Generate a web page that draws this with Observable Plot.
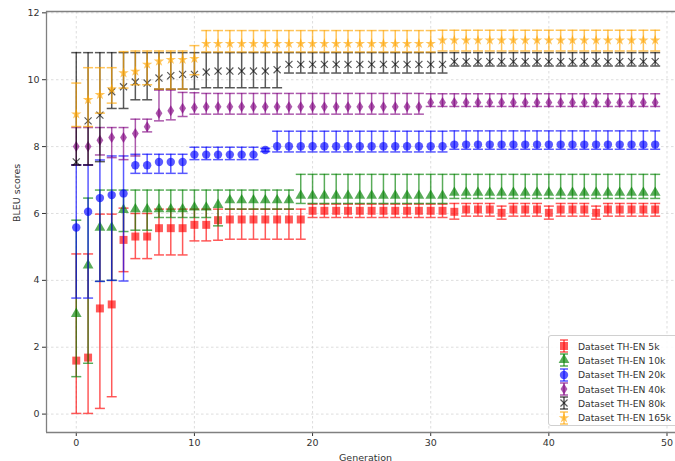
<!DOCTYPE html>
<html>
<head>
<meta charset="utf-8">
<script src="https://cdn.jsdelivr.net/npm/d3@7"></script>
<script src="https://cdn.jsdelivr.net/npm/@observablehq/plot@0.6"></script>
<style>
  html, body { margin: 0; padding: 0; background: #fff; }
  #wrap { position: relative; width: 675px; height: 461px; overflow: hidden; font-family: "DejaVu Sans", sans-serif; }
  #legend { position: absolute; left: 548px; top: 335px; width: 140px; height: 91px; box-sizing: border-box;
            border: 1px solid #d0d0d0; border-radius: 3px; background: rgba(255,255,255,0.85); padding-top: 3px; }
  .row { display: flex; align-items: center; height: 14.3px; font-size: 9.2px; color: #333; white-space: nowrap; }
  .row svg { margin-left: 7px; margin-right: 6px; }
</style>
</head>
<body>
<div id="wrap"><div id="legend"></div></div>
<script>
// ---- data ----
const generations = d3.range(50);
const xTicks = [0, 10, 20, 30, 40, 50];
const yTicks = [0, 2, 4, 6, 8, 10, 12];
const seriesNames = ["Dataset TH-EN 5k", "Dataset TH-EN 10k", "Dataset TH-EN 20k", "Dataset TH-EN 40k", "Dataset TH-EN 80k", "Dataset TH-EN 165k"];

const red_mean = [1.60,1.69,3.16,3.28,5.21,5.31,5.31,5.56,5.56,5.56, 5.66,5.66,5.80,5.82,5.82,5.82,5.82,5.82,5.82,5.82,
  6.08,6.08,6.08,6.08,6.08,6.08,6.08,6.08,6.08,6.08, 6.08,6.08,6.05,6.12,6.12,6.12,6.02,6.12,6.12,6.12,
  6.02,6.12,6.12,6.12,6.02,6.12,6.12,6.12,6.12,6.12];
const red_lo = [0.02,0.02,0.17,0.52,4.26,4.65,4.65,4.76,4.76,4.76, 5.18,5.18,5.20,5.23,5.23,5.23,5.23,5.23,5.23,5.23,
  5.88,5.88,5.88,5.88,5.88,5.88,5.88,5.88,5.88,5.88, 5.88,5.88,5.83,5.92,5.92,5.92,5.83,5.92,5.92,5.92,
  5.83,5.92,5.92,5.92,5.83,5.92,5.92,5.92,5.92,5.92];
const red_hi = [4.79,4.79,5.98,5.98,6.16,6.00,6.00,6.13,6.13,6.13, 6.13,6.13,6.13,6.13,6.13,6.13,6.13,6.13,6.13,6.13,
  6.28,6.28,6.28,6.28,6.28,6.28,6.28,6.28,6.28,6.28, 6.28,6.28,6.30,6.30,6.30,6.30,6.22,6.30,6.30,6.30,
  6.22,6.30,6.30,6.30,6.22,6.30,6.30,6.30,6.30,6.30];

const green_mean = [3.00,4.45,5.58,5.58,6.11,6.13,6.13,6.13,6.13,6.13, 6.18,6.18,6.26,6.40,6.40,6.40,6.40,6.40,6.40,6.53,
  6.53,6.53,6.53,6.53,6.53,6.53,6.53,6.53,6.53,6.53, 6.53,6.53,6.62,6.62,6.62,6.62,6.62,6.62,6.62,6.62,
  6.62,6.62,6.62,6.62,6.62,6.62,6.62,6.62,6.62,6.62];
const green_lo = [1.12,1.52,3.97,4.00,5.46,5.50,5.50,5.88,5.88,5.88, 5.88,5.88,5.63,6.13,6.13,6.13,6.13,6.13,6.13,6.30,
  6.30,6.30,6.30,6.30,6.30,6.30,6.30,6.30,6.30,6.30, 6.30,6.30,6.45,6.45,6.45,6.45,6.45,6.45,6.45,6.45,
  6.45,6.45,6.45,6.45,6.45,6.45,6.45,6.45,6.45,6.45];
const green_hi = [5.80,6.46,6.70,6.70,6.70,6.70,6.70,6.70,6.70,6.70, 6.70,6.70,6.70,6.70,6.70,6.70,6.70,6.70,6.70,7.17,
  7.17,7.17,7.17,7.17,7.17,7.17,7.17,7.17,7.17,7.17, 7.17,7.17,7.17,7.17,7.17,7.17,7.17,7.17,7.17,7.17,
  7.17,7.17,7.17,7.17,7.17,7.17,7.17,7.17,7.17,7.17];

const blue_mean = [5.58,6.05,6.46,6.55,6.60,7.44,7.44,7.54,7.54,7.54, 7.76,7.76,7.76,7.76,7.76,7.76,7.90,8.01,8.01,8.01,
  8.01,8.01,8.01,8.01,8.01,8.01,8.01,8.01,8.01,8.01, 8.01,8.01,8.06,8.06,8.06,8.06,8.06,8.06,8.06,8.06,
  8.06,8.06,8.06,8.06,8.06,8.06,8.06,8.06,8.06,8.06];
const blue_lo = [3.47,3.47,3.97,4.00,3.98,7.20,7.20,7.20,7.20,7.20, 7.61,7.61,7.61,7.61,7.61,7.61,7.85,7.84,7.84,7.84,
  7.84,7.84,7.84,7.84,7.84,7.84,7.84,7.84,7.84,7.84, 7.84,7.84,7.92,7.92,7.92,7.92,7.92,7.92,7.92,7.92,
  7.92,7.92,7.92,7.92,7.92,7.92,7.92,7.92,7.92,7.92];
const blue_hi = [7.45,7.45,7.60,7.72,7.72,7.77,7.77,7.77,7.77,7.77, 7.98,7.98,7.98,7.98,7.98,7.98,7.95,8.46,8.46,8.46,
  8.46,8.46,8.46,8.46,8.46,8.46,8.46,8.46,8.46,8.46, 8.46,8.46,8.47,8.47,8.47,8.47,8.47,8.47,8.47,8.47,
  8.47,8.47,8.47,8.47,8.47,8.47,8.47,8.47,8.47,8.47];

const purple_mean = [8.00,8.00,8.19,8.27,8.27,8.39,8.59,9.00,9.07,9.15, 9.17,9.19,9.19,9.19,9.19,9.19,9.19,9.19,9.19,9.19,
  9.19,9.19,9.19,9.19,9.19,9.19,9.19,9.19,9.19,9.19, 9.32,9.32,9.32,9.32,9.32,9.32,9.32,9.32,9.32,9.32,
  9.32,9.32,9.32,9.32,9.32,9.32,9.32,9.32,9.32,9.32];
const purple_lo = [7.45,7.45,7.75,7.67,7.61,7.72,8.44,8.77,8.80,8.90, 8.97,8.97,8.97,8.97,8.97,8.97,8.97,8.97,8.97,8.97,
  8.97,8.97,8.97,8.97,8.97,8.97,8.97,8.97,8.97,8.97, 9.20,9.20,9.20,9.20,9.20,9.20,9.20,9.20,9.20,9.20,
  9.20,9.20,9.20,9.20,9.20,9.20,9.20,9.20,9.20,9.20];
const purple_hi = [8.57,8.57,8.57,8.57,8.57,8.82,8.82,9.69,9.69,9.62, 9.61,9.59,9.59,9.59,9.59,9.59,9.59,9.59,9.59,9.59,
  9.59,9.59,9.59,9.59,9.59,9.59,9.59,9.59,9.59,9.59, 9.58,9.58,9.58,9.58,9.58,9.58,9.58,9.58,9.58,9.58,
  9.58,9.58,9.58,9.58,9.58,9.58,9.58,9.58,9.58,9.58];

const black_mean = [7.54,8.77,8.94,9.64,9.79,9.93,9.90,10.05,10.12,10.16, 10.16,10.23,10.26,10.26,10.26,10.26,10.26,10.30,10.46,10.46,
  10.46,10.46,10.46,10.46,10.46,10.46,10.46,10.46,10.46,10.46, 10.46,10.46,10.54,10.54,10.54,10.54,10.54,10.54,10.54,10.54,
  10.54,10.54,10.54,10.54,10.54,10.54,10.54,10.54,10.54,10.54];
const black_lo = [7.45,7.45,7.55,9.14,9.14,9.40,9.40,9.72,9.72,9.72, 9.72,9.76,9.76,9.76,9.76,9.76,9.76,9.76,10.20,10.20,
  10.20,10.20,10.20,10.20,10.20,10.20,10.20,10.20,10.20,10.20, 10.20,10.20,10.41,10.41,10.41,10.41,10.41,10.41,10.41,10.41,
  10.41,10.41,10.41,10.41,10.41,10.41,10.41,10.41,10.41,10.41];
const black_hi = [10.81,10.81,10.81,10.81,10.81,10.81,10.81,10.81,10.81,10.81, 10.81,10.81,10.81,10.81,10.81,10.81,10.81,10.81,10.81,10.81,
  10.81,10.81,10.81,10.81,10.81,10.81,10.81,10.81,10.81,10.81, 10.81,10.81,10.81,10.81,10.81,10.81,10.81,10.81,10.81,10.81,
  10.81,10.81,10.81,10.81,10.81,10.81,10.81,10.81,10.81,10.81];

const orange_mean = [8.97,9.40,9.55,9.72,10.20,10.25,10.46,10.55,10.60,10.60, 10.63,11.08,11.08,11.08,11.08,11.08,11.08,11.08,11.08,11.08,
  11.08,11.08,11.08,11.08,11.08,11.08,11.08,11.08,11.08,11.08, 11.08,11.18,11.18,11.18,11.18,11.18,11.18,11.18,11.18,11.18,
  11.18,11.18,11.18,11.18,11.18,11.18,11.18,11.18,11.18,11.18];
const orange_lo = [8.60,8.60,9.00,9.30,9.75,9.85,9.85,9.72,9.72,9.72, 10.15,10.83,10.83,10.83,10.83,10.83,10.83,10.83,10.83,10.83,
  10.83,10.83,10.83,10.83,10.83,10.83,10.83,10.83,10.83,10.83, 10.83,10.86,10.86,10.86,10.86,10.86,10.86,10.86,10.86,10.86,
  10.86,10.86,10.86,10.86,10.86,10.86,10.86,10.86,10.86,10.86];
const orange_hi = [9.90,10.36,10.36,10.36,10.84,10.86,10.86,10.86,10.86,10.86, 11.02,11.47,11.47,11.47,11.47,11.47,11.47,11.47,11.47,11.47,
  11.47,11.47,11.47,11.47,11.47,11.47,11.47,11.47,11.47,11.47, 11.47,11.48,11.48,11.48,11.48,11.48,11.48,11.48,11.48,11.48,
  11.48,11.48,11.48,11.48,11.48,11.48,11.48,11.48,11.48,11.48];

// ---- styling / symbols ----
const capSymbol = {draw(ctx) { ctx.moveTo(-5, 0); ctx.lineTo(5, 0); }};
const thinDiamond = {draw(ctx, size) { const r = Math.sqrt(size / Math.PI); ctx.moveTo(0, -r * 1.25); ctx.lineTo(r * 0.78, 0); ctx.lineTo(0, r * 1.25); ctx.lineTo(-r * 0.78, 0); ctx.closePath(); }};

const series = [
  {name: seriesNames[0], color: "#ff0000", symbol: "square", d3sym: d3.symbolSquare, r: 4.5, m: red_mean, lo: red_lo, hi: red_hi},
  {name: seriesNames[1], color: "#008000", symbol: "triangle", d3sym: d3.symbolTriangle, r: 4.0, m: green_mean, lo: green_lo, hi: green_hi},
  {name: seriesNames[2], color: "#0000ff", symbol: "circle", d3sym: d3.symbolCircle, r: 4.2, m: blue_mean, lo: blue_lo, hi: blue_hi},
  {name: seriesNames[3], color: "#800080", symbol: thinDiamond, d3sym: thinDiamond, r: 4.4, m: purple_mean, lo: purple_lo, hi: purple_hi},
  {name: seriesNames[4], color: "#000000", symbol: "times", d3sym: d3.symbolTimes, r: 3.3, m: black_mean, lo: black_lo, hi: black_hi, stroked: true},
  {name: seriesNames[5], color: "#ffa500", symbol: "star", d3sym: d3.symbolStar, r: 3.3, m: orange_mean, lo: orange_lo, hi: orange_hi}
];
const alpha = 0.65;

const marks = [
  Plot.ruleX(xTicks, {stroke: "#d4d4d4", strokeDasharray: "2.5,2.5", strokeWidth: 0.8}),
  Plot.ruleY(yTicks, {stroke: "#d4d4d4", strokeDasharray: "2.5,2.5", strokeWidth: 0.8})
];
for (const s of series) {
  const rows = generations.map((g, i) => ({g, m: s.m[i], lo: s.lo[i], hi: s.hi[i]}));
  marks.push(Plot.ruleX(rows, {x: "g", y1: "lo", y2: "hi", stroke: s.color, strokeOpacity: alpha, strokeWidth: 1.5}));
  marks.push(Plot.dot(rows, {x: "g", y: "lo", symbol: capSymbol, r: 1, fill: "none", stroke: s.color, strokeOpacity: alpha, strokeWidth: 1.5}));
  marks.push(Plot.dot(rows, {x: "g", y: "hi", symbol: capSymbol, r: 1, fill: "none", stroke: s.color, strokeOpacity: alpha, strokeWidth: 1.5}));
  if (s.stroked) {
    marks.push(Plot.dot(rows, {x: "g", y: "m", symbol: s.symbol, r: s.r, fill: "none", stroke: s.color, strokeOpacity: alpha, strokeWidth: 1.2}));
  } else {
    marks.push(Plot.dot(rows, {x: "g", y: "m", symbol: s.symbol, r: s.r, fill: s.color, fillOpacity: alpha, stroke: "none"}));
  }
}
const xMin = -2.52, xMax = 50.72, yMin = -0.55, yMax = 12.04;
marks.push(Plot.ruleX([xMin], {stroke: "#808080", strokeWidth: 1.3}));
marks.push(Plot.ruleY([yMin, yMax], {stroke: "#808080", strokeWidth: 1.3}));
marks.push(Plot.text(["Generation"], {frameAnchor: "bottom", dx: 4.5, dy: 28, fill: "#333", fontSize: 9.5}));
marks.push(Plot.text(["BLEU scores"], {frameAnchor: "left", rotate: -90, dx: -30, dy: 0, fill: "#333", fontSize: 9.5}));

const chart = Plot.plot({
  width: 675,
  height: 461,
  marginLeft: 46,
  marginRight: 0,
  marginTop: 11,
  marginBottom: 29,
  style: {fontFamily: "DejaVu Sans, sans-serif", fontSize: "9.5px", background: "white", color: "#333", overflow: "visible"},
  x: {domain: [xMin, xMax], ticks: xTicks, tickSize: 4, tickPadding: 3, label: null},
  y: {domain: [yMin, yMax], ticks: yTicks, tickSize: 4, tickPadding: 3, label: null},
  marks
});
document.getElementById("wrap").insertBefore(chart, document.getElementById("legend"));

// ---- legend ----
const legend = d3.select("#legend");
for (const s of series) {
  const row = legend.append("div").attr("class", "row");
  const svg = row.append("svg").attr("width", 16).attr("height", 14);
  const g = svg.append("g").attr("transform", "translate(8,7)");
  g.append("line").attr("x1", 0).attr("x2", 0).attr("y1", -6).attr("y2", 6).attr("stroke", s.color).attr("stroke-opacity", alpha).attr("stroke-width", 1.5);
  g.append("line").attr("x1", -4).attr("x2", 4).attr("y1", -6).attr("y2", -6).attr("stroke", s.color).attr("stroke-opacity", alpha).attr("stroke-width", 1.5);
  g.append("line").attr("x1", -4).attr("x2", 4).attr("y1", 6).attr("y2", 6).attr("stroke", s.color).attr("stroke-opacity", alpha).attr("stroke-width", 1.5);
  const p = g.append("path").attr("d", d3.symbol(s.d3sym, Math.PI * s.r * s.r)());
  if (s.stroked) p.attr("fill", "none").attr("stroke", s.color).attr("stroke-opacity", alpha).attr("stroke-width", 1.2);
  else p.attr("fill", s.color).attr("fill-opacity", alpha);
  row.append("span").text(s.name);
}
</script>
</body>
</html>
